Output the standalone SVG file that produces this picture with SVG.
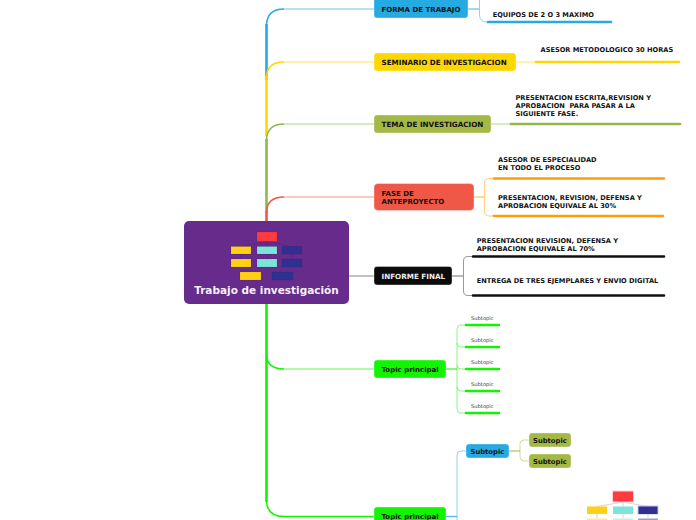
<svg xmlns="http://www.w3.org/2000/svg" width="696" height="520" viewBox="0 0 696 520">
<style>
text{font-family:"DejaVu Sans",Verdana,sans-serif;font-weight:700;font-size:6.630px;fill:#111}
.nt{font-size:7.200px}
.tp{font-size:7px}
.sb{font-size:6.800px}
.n{stroke:#fff;stroke-opacity:.35;stroke-width:1}
.t{fill:none;stroke-width:2.600;stroke-linecap:butt}
.c{fill:none;stroke-width:1.500}
.p{fill:none;stroke-width:1.400;stroke-opacity:.45}
.u{fill:none;stroke-width:2.600;stroke-linecap:round}
.b{fill:none;stroke-width:1;stroke-opacity:.5}
.h{fill:none;stroke-width:1.300;stroke-opacity:.8}
.sub{font-weight:400;font-size:5.200px;fill:#444}
.i{stroke:#000;stroke-opacity:.12;stroke-width:.6}
</style>
<rect width="696" height="520" fill="#fff"/>
<g id="connectors">
<path class="t" stroke="#25aae1" d="M266.500 80V24"/><path class="c" stroke="#25aae1" d="M266.500 26Q266.500 9 284 9"/><path class="p" stroke="#25aae1" d="M284 9H374"/>
<path class="t" stroke="#ffd700" d="M266.500 136V76"/><path class="c" stroke="#ffd700" d="M266.500 78Q266.500 62 284 62"/><path class="p" stroke="#ffd700" stroke-opacity=".6" d="M284 62H374"/>
<path class="t" stroke="#8fb84a" d="M266.500 212V139"/><path class="c" stroke="#8fb84a" d="M266.500 141Q266.500 124 284 124"/><path class="p" stroke="#8fb84a" d="M284 124H374"/>
<path class="t" stroke="#ef5847" d="M266.500 221V211"/><path class="c" stroke="#ef5847" d="M266.500 213Q266.500 197 284 197"/><path class="p" stroke="#ef5847" stroke-opacity=".55" d="M284 197H374"/>
<path fill="none" stroke="#999" stroke-width="1.200" d="M349 276H374"/>
<path class="t" stroke="#11f500" d="M266.500 304V502"/><path class="c" stroke="#11f500" d="M266.500 354Q266.500 369 284 369"/><path class="p" stroke="#11f500" stroke-opacity=".4" d="M284 369H374"/>
<path class="c" stroke="#11f500" d="M266.500 500Q266.500 516.500 284 516.500H374"/>
<path class="c" stroke="#25aae1" stroke-opacity=".6" d="M468 9H479"/><path class="b" stroke="#25aae1" d="M479.500 0V15Q479.500 22 487 22"/>
<path class="u" stroke="#25aae1" d="M488 22H611"/>
<path class="p" stroke="#ffd700" stroke-opacity=".5" d="M516 62H535"/><path class="u" stroke="#ffd700" d="M536 62H679"/>
<path class="p" stroke="#8fb84a" d="M491 124H510"/><path class="u" stroke="#8fb84a" d="M511 124H680"/>
<path class="h" stroke="#ffb74d" d="M474 197H484"/><path class="b" stroke="#ff9d0a" d="M493 178.500H489Q484.500 178.500 484.500 183V211.500Q484.500 216 489 216H493"/>
<path class="u" stroke="#ff9d0a" d="M494 178.500H664M494 216H663"/>
<path class="h" stroke="#777" d="M452 276H463"/><path fill="none" stroke="#999" d="M472 256.500H468Q463.500 256.500 463.500 261V291Q463.500 295.500 468 295.500H472"/>
<path class="u" stroke="#111" d="M473 256.500H664M473 295.500H664"/>
<path class="h" stroke="#11f500" stroke-opacity=".6" d="M446 369H457"/><path class="b" stroke="#11f500" d="M465 325H461Q457 325 457 329V409Q457 413 461 413H465M457 343Q457 347 461 347H465M457 365Q457 369 461 369H465M457 387Q457 391 461 391H465"/>
<path class="u" stroke="#11f500" d="M466 325H499M466 347H499M466 369H499M466 391H499M466 413H499"/>
<path class="h" stroke="#25aae1" stroke-opacity=".7" d="M446 516.500H457"/><path class="b" stroke="#25aae1" d="M466 451H461Q457 451 457 455V520"/>
<path class="h" stroke="#a4b846" stroke-opacity=".7" d="M509 451H520"/><path class="b" stroke="#a4b846" d="M529 440H524Q520 440 520 444V457Q520 461 524 461H529"/>
</g>
<g id="central"><rect x="184" y="221" width="165" height="83" rx="5" fill="#672b8c"/>
<rect class="i" x="257" y="232" width="20" height="9.500" fill="#ff3b3f"/>
<path stroke="#000" stroke-opacity=".2" stroke-width=".5" fill="none" d="M267 241V247M267 241L241 247M267 241L292 247M241 254V259M267 254V259M292 254V259"/>
<rect class="i" x="231" y="246.500" width="20" height="7.500" fill="#ffd013"/><rect class="i" x="257" y="246.500" width="20" height="7.500" fill="#7ce5d9"/><rect class="i" x="282" y="246.500" width="20" height="7.500" fill="#2e3192"/>
<rect class="i" x="231" y="259" width="20" height="8" fill="#ffd013"/><rect class="i" x="257" y="259" width="20" height="8" fill="#7ce5d9"/><rect class="i" x="282" y="259" width="20" height="8" fill="#2e3192"/>
<rect class="i" x="240" y="272" width="21" height="8" fill="#ffd013"/><rect class="i" x="272" y="272" width="21" height="8" fill="#2e3192"/>
<text x="266.500" y="294" text-anchor="middle" style="font-size:10.500px;fill:#f4f0f6">Trabajo de investigación</text></g>
<g id="forma-de-trabajo"><rect class="n" x="374" y="-2" width="94" height="20" rx="3" fill="#25aae1"/><text class="tp" x="381.500" y="12">FORMA DE TRABAJO</text></g>
<g id="equipos"><text x="492.700" y="16.500">EQUIPOS DE 2 O 3 MAXIMO</text></g>
<g id="seminario"><rect class="n" x="374" y="53" width="142" height="18" rx="3" fill="#ffd700"/><text class="nt" x="381.500" y="65">SEMINARIO DE INVESTIGACION</text></g>
<g id="asesor-metodologico"><text x="540.500" y="52">ASESOR METODOLOGICO 30 HORAS</text></g>
<g id="tema"><rect class="n" x="374" y="115" width="117" height="18" rx="3" fill="#a4b846"/><text class="nt" x="381.500" y="127">TEMA DE INVESTIGACION</text></g>
<g id="presentacion-escrita"><text x="515.500" y="100">PRESENTACION ESCRITA,REVISION Y</text><text x="515.500" y="108" style="white-space:pre">APROBACION  PARA PASAR A LA</text><text x="515.500" y="116">SIGUIENTE FASE.</text></g>
<g id="fase"><rect class="n" x="374" y="183.500" width="100" height="27" rx="4" fill="#ef5847"/><text class="tp" x="381.500" y="196">FASE DE</text><text class="tp" x="381.500" y="204">ANTEPROYECTO</text></g>
<g id="asesor-especialidad"><text x="498" y="162">ASESOR DE ESPECIALIDAD</text><text x="498" y="170">EN TODO EL PROCESO</text></g>
<g id="presentacion-30"><text x="498" y="200">PRESENTACION, REVISION, DEFENSA Y</text><text x="498" y="208">APROBACION EQUIVALE AL 30%</text></g>
<g id="informe-final"><rect class="n" x="374" y="266.500" width="78" height="18.500" rx="3" fill="#0b0b0b"/><text class="nt" x="381.500" y="279" style="fill:#eee">INFORME FINAL</text></g>
<g id="presentacion-70"><text x="476.700" y="243">PRESENTACION REVISION, DEFENSA Y</text><text x="476.700" y="251">APROBACION EQUIVALE AL 70%</text></g>
<g id="entrega"><text x="476.700" y="283">ENTREGA DE TRES EJEMPLARES Y ENVIO DIGITAL</text></g>
<g id="topic-1"><rect class="n" x="374" y="360" width="72" height="18" rx="3" fill="#11f500"/><text class="tp" x="381.500" y="372">Topic principal</text></g>
<g id="subtopics"><text class="sub" x="471" y="320">Subtopic</text><text class="sub" x="471" y="342">Subtopic</text><text class="sub" x="471" y="364">Subtopic</text><text class="sub" x="471" y="386">Subtopic</text><text class="sub" x="471" y="408">Subtopic</text></g>
<g id="topic-2"><rect class="n" x="374" y="507" width="72" height="20" rx="3" fill="#11f500"/><text class="tp" x="381.500" y="519">Topic principal</text></g>
<g id="subtopic-blue"><rect class="n" x="466" y="444" width="43" height="14" rx="3" fill="#25aae1"/><text class="sb" x="470.500" y="453.500">Subtopic</text></g>
<g id="subtopic-green-1"><rect class="n" x="529" y="433" width="42" height="14" rx="3" fill="#a4b846"/><text class="sb" x="533" y="443">Subtopic</text></g>
<g id="subtopic-green-2"><rect class="n" x="529" y="454" width="42" height="14" rx="3" fill="#a4b846"/><text class="sb" x="533" y="464">Subtopic</text></g>
<g id="small-chart">
<path stroke="#bbb" stroke-width=".6" fill="none" d="M623 501.500V506.500M623 502L597 506.500M623 502L648 506.500M597 514V518M623 514V518M648 514V518"/>
<rect x="612" y="490.500" width="22" height="12" fill="#ffd5d6"/><rect x="613" y="491.500" width="20" height="10" fill="#ff3b3f"/>
<rect x="587" y="506.500" width="20" height="7.500" fill="#ffd013"/><rect x="613" y="506.500" width="20" height="7.500" fill="#7ce5d9"/><rect x="637.500" y="505.500" width="21" height="9" fill="#c5c6e4"/><rect x="638.500" y="506.500" width="19" height="7.500" fill="#2e3192"/>
<rect x="587" y="518.500" width="20" height="1.500" fill="#ffe98a"/><rect x="613" y="518.500" width="20" height="1.500" fill="#bdf2ec"/><rect x="638" y="518.500" width="20" height="1.500" fill="#9a9cc9"/>
</g>
</svg>
